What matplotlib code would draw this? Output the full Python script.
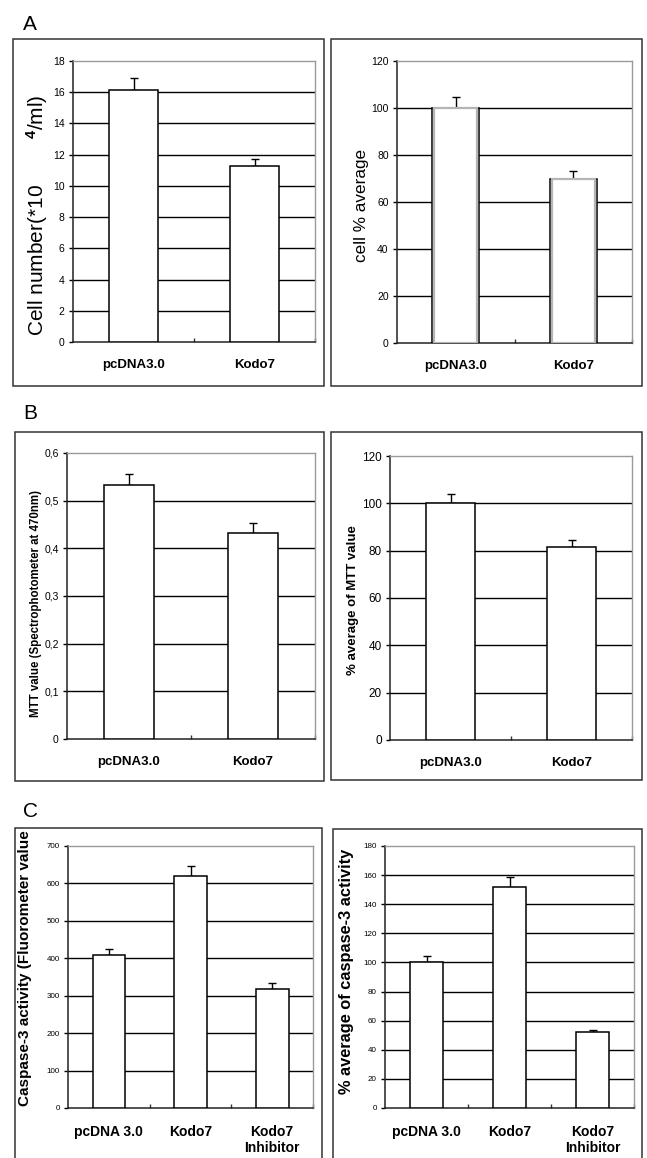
import matplotlib
matplotlib.use("Agg")
import matplotlib.pyplot as plt
from matplotlib.patches import Rectangle
from matplotlib.ticker import FuncFormatter, FixedLocator
import numpy as np

plt.rcParams['font.family'] = ['Liberation Sans', 'DejaVu Sans']
plt.rcParams['mathtext.fontset'] = 'custom'
plt.rcParams['mathtext.rm'] = 'Liberation Sans'
plt.rcParams['mathtext.bf'] = 'Liberation Sans:bold'

# ---------------- data ----------------
cats_two = ["pcDNA3.0", "Kodo7"]
cats_three = ["pcDNA 3.0", "Kodo7", "Kodo7\nInhibitor"]

cell_number = [16.15, 11.3]
cell_number_err = [0.75, 0.45]

cell_pct = [100, 70]
cell_pct_err = [4.8, 3.3]

mtt_value = [0.533, 0.433]
mtt_value_err = [0.023, 0.020]

mtt_pct = [100, 81.4]
mtt_pct_err = [3.8, 3.2]

casp_value = [409, 620, 318]
casp_value_err = [16, 26, 16]

casp_pct = [100, 151.5, 52]
casp_pct_err = [4.5, 7.0, 1.5]

W, H = 647, 1158
fig = plt.figure(figsize=(W / 100, H / 100), dpi=100)


def rect(x0, y0, x1, y1):
    return [x0 / W, 1 - y1 / H, (x1 - x0) / W, (y1 - y0) / H]


# panel frames
for (x0, y0, x1, y1) in [(13, 39, 324, 386), (331, 39, 642, 386),
                         (15, 432, 324, 781), (331, 432, 642, 780),
                         (15, 828, 322, 1175), (333, 829, 642, 1175)]:
    fig.patches.append(Rectangle((x0 / W, 1 - y1 / H), (x1 - x0) / W, (y1 - y0) / H,
                                 transform=fig.transFigure, fill=False,
                                 edgecolor='#333333', linewidth=1.1))

fig.text(23 / W, 1 - 30 / H, "A", fontsize=15)
fig.text(23 / W, 1 - 419 / H, "B", fontsize=15)
fig.text(23 / W, 1 - 817 / H, "C", fontsize=15)


def panel(r, cats, vals, errs, ymax, ystep, ylabel, ylabel_kw, label_xy, fmt=None,
          xfs=9.5, yfs=7.5, inner_gray=False):
    ax = fig.add_axes(rect(*r))
    x = np.arange(len(cats))
    ax.set_xlim(-0.5, len(cats) - 0.5)
    ax.set_ylim(0, ymax)
    yt = np.arange(0, ymax + ystep / 2, ystep)
    for t in yt[1:-1]:
        ax.axhline(t, color='black', linewidth=1.0, zorder=1)
    ax.errorbar(x, vals, yerr=[np.zeros(len(vals)), errs], fmt='none',
                ecolor='black', elinewidth=1.0, capsize=3, capthick=1.0, zorder=2)
    ax.bar(x, vals, width=0.4, color='white', edgecolor='black', linewidth=1.1, zorder=3)
    if inner_gray:
        ax.bar(x, vals, width=0.37, fill=False, edgecolor='#b5b5b5', linewidth=1.6, zorder=4)
    ax.set_yticks(yt)
    if fmt is not None:
        ax.yaxis.set_major_formatter(FuncFormatter(fmt))
    ax.set_xticks(x)
    ax.set_xticklabels(cats, fontweight='bold', fontsize=xfs)
    ax.xaxis.set_minor_locator(FixedLocator(np.arange(0.5, len(cats), 1.0)))
    ax.tick_params(axis='x', which='major', length=0, pad=12)
    ax.tick_params(axis='x', which='minor', direction='in', length=3, width=1, color='#333333')
    ax.tick_params(axis='y', which='major', length=3, width=1, labelsize=yfs, pad=3)
    for s in ['left', 'bottom']:
        ax.spines[s].set_color('#222222')
        ax.spines[s].set_linewidth(1.1)
    for s in ['top', 'right']:
        ax.spines[s].set_color('#9a9a9a')
        ax.spines[s].set_linewidth(1.0)
    ax.set_ylabel(ylabel, **ylabel_kw)
    ax.yaxis.set_label_coords(*label_xy)
    return ax


panel((73, 61, 315, 342), cats_two, cell_number, cell_number_err, 18, 2,
      r"Cell number(*10        $\mathbf{^{4}}$/ml)", dict(fontsize=15),
      (-0.095, 0.452))
panel((397, 61, 632, 343), cats_two, cell_pct, cell_pct_err, 120, 20,
      "cell % average", dict(fontsize=12.3), (-0.119, 0.489), inner_gray=True)

panel((67, 453, 315, 739), cats_two, mtt_value, mtt_value_err, 0.6, 0.1,
      "MTT value (Spectrophotometer at 470nm)", dict(fontsize=8.3, fontweight='bold'),
      (-0.101, 0.474),
      fmt=lambda v, p: "0" if abs(v) < 1e-9 else ("%.1f" % v).replace('.', ','))
panel((390, 456, 632, 740), cats_two, mtt_pct, mtt_pct_err, 120, 20,
      "% average of MTT value", dict(fontsize=9.5, fontweight='bold'),
      (-0.128, 0.493), fmt=lambda v, p: "%d" % round(v), yfs=8.5)

panel((68, 846, 313, 1108), cats_three, casp_value, casp_value_err, 700, 100,
      "Caspase-3 activity (Fluorometer value", dict(fontsize=11, fontweight='bold'),
      (-0.147, 0.534), xfs=10, yfs=5.8)
panel((385, 846, 634, 1108), cats_three, casp_pct, casp_pct_err, 180, 20,
      "% average of caspase-3 activity", dict(fontsize=11.8, fontweight='bold'),
      (-0.124, 0.523), xfs=10, yfs=5.8)

fig.savefig("out.png", dpi=100)
